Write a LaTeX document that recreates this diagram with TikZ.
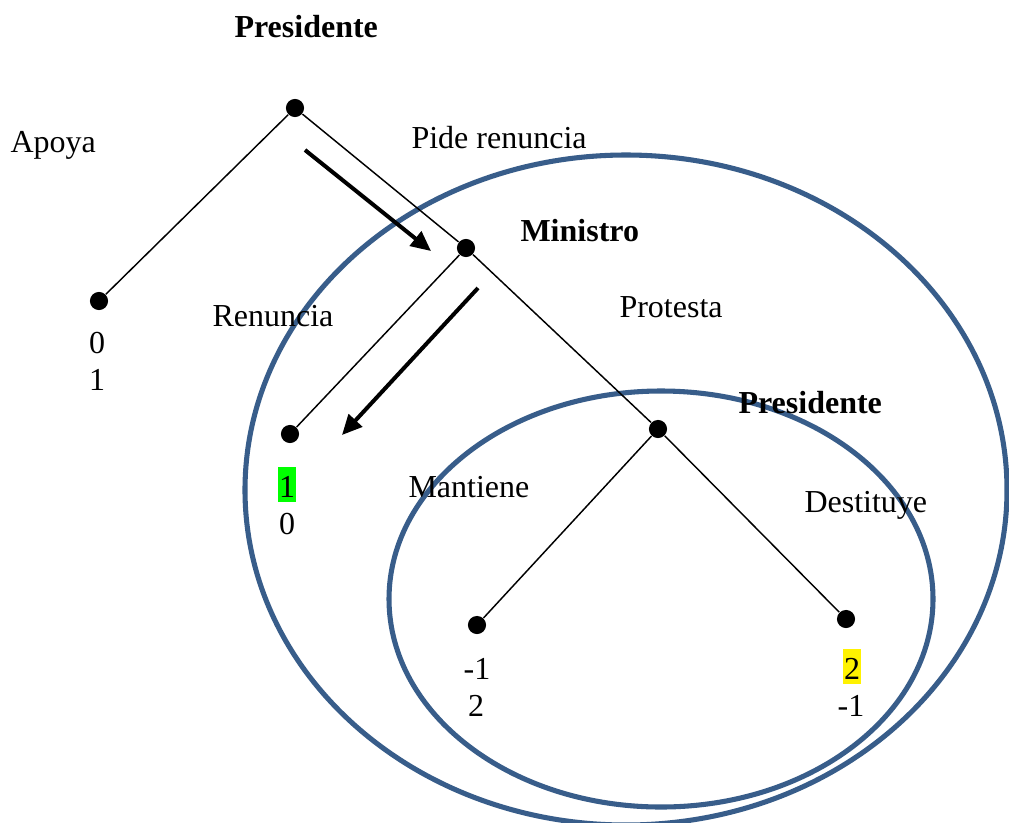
\documentclass[tikz,border=0pt]{standalone}
\usepackage{fontspec}
\setmainfont{Liberation Serif}
\usetikzlibrary{arrows.meta}
\definecolor{azulsub}{RGB}{56,93,138}
\tikzset{
  punto/.style={circle, fill=black, inner sep=0pt, minimum size=6.8pt},
  rama/.style={line width=0.55pt},
  flecha/.style={line width=1.5pt, -{Triangle[length=7.5pt, width=6.8pt]}},
  subjuego/.style={azulsub, line width=1.9pt},
  etiq/.style={anchor=base west, inner sep=0pt},
  pago/.style={anchor=base, inner sep=0pt},
  resalte/.style={inner xsep=0.4pt, text height=11.4pt, text depth=2pt},
}
\begin{document}
\begin{tikzpicture}[x=0.375pt, y=-0.375pt, font=\fontsize{12}{14}\selectfont]
        \clip (0,0) rectangle (1009,822);
        \fill[white] (0,0) rectangle (1009,822);

        % Subjuegos
        \draw[subjuego] (626,490) ellipse [x radius=381, y radius=335];
        \draw[subjuego] (661,599) ellipse [x radius=272, y radius=208];

        % Nodos de decision y terminales
        \node[punto] (p1) at (295,108) {};
        \node[punto] (t1) at (99,301) {};
        \node[punto] (m1) at (466,248) {};
        \node[punto] (t2) at (290,434) {};
        \node[punto] (p2) at (658,429) {};
        \node[punto] (t3) at (477,625) {};
        \node[punto] (t4) at (846,619) {};

        \draw[rama] (p1) -- (t1);
        \draw[rama] (p1) -- (m1);
        \draw[rama] (m1) -- (t2);
        \draw[rama] (m1) -- (p2);
        \draw[rama] (p2) -- (t3);
        \draw[rama] (p2) -- (t4);

        % Induccion hacia atras
        \coordinate (f1a) at (305,150);
        \coordinate (f1b) at (431,251);
        \coordinate (f2a) at (478,288);
        \coordinate (f2b) at (342,435);
        \draw[flecha] (f1a) -- (f1b);
        \draw[flecha] (f2a) -- (f2b);

        % Jugadores y acciones
        \node[etiq, font=\fontsize{12}{14}\selectfont\bfseries] (j1) at (234,37) {Presidente};
        \node[etiq, font=\fontsize{12}{14}\selectfont\bfseries] (j2) at (520,241) {Ministro};
        \node[etiq, font=\fontsize{12}{14}\selectfont\bfseries] (j3) at (738,413) {Presidente};
        \node[etiq] (a1) at (10,152) {Apoya};
        \node[etiq] (a2) at (411,148) {Pide renuncia};
        \node[etiq] (a3) at (212,326) {Renuncia};
        \node[etiq] (a4) at (619,317) {Protesta};
        \node[etiq] (a5) at (408,497) {Mantiene};
        \node[etiq] (a6) at (804,512) {Destituye};

        % Pagos
        \node[pago] (u1) at (97,353) {0};
        \node[pago] (v1) at (97,390) {1};
        \node[pago, resalte, fill=green] (u2) at (287,497) {1};
        \node[pago] (v2) at (287,534) {0};
        \node[pago] (u3) at (477,679) {-1};
        \node[pago] (v3) at (476,716) {2};
        \node[pago, resalte, fill=yellow] (u4) at (852,679) {2};
        \node[pago] (v4) at (851,716) {-1};
\end{tikzpicture}
\end{document}
